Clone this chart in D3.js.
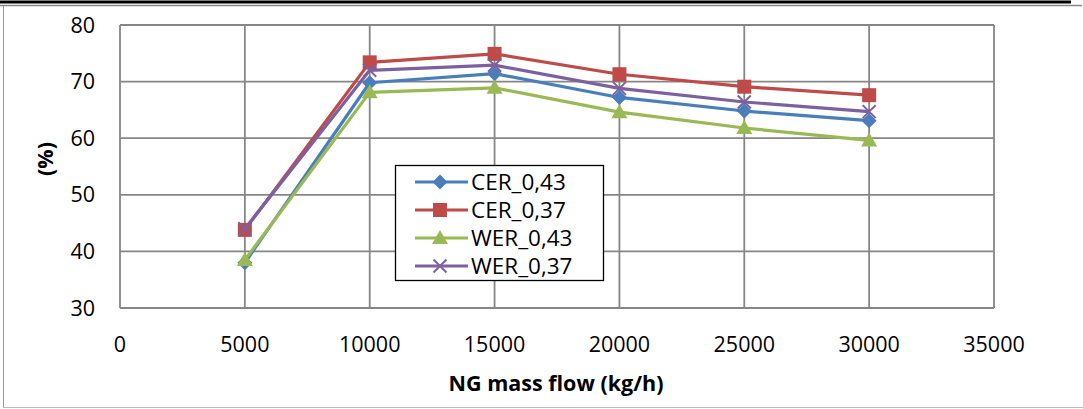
<!DOCTYPE html>
<html>
<head>
<meta charset="utf-8">
<script src="https://cdn.jsdelivr.net/npm/d3@7"></script>
<style>
  html, body { margin: 0; padding: 0; background: #fff; }
  svg { display: block; font-family: "Open Sans", "Noto Sans", sans-serif; }
</style>
</head>
<body>
<div id="chart"></div>
<script>
// x positions (kg/h) shared by every series
const FLOWS = [5000, 10000, 15000, 20000, 25000, 30000];

const CER_043 = [38.0, 69.8, 71.4, 67.2, 64.8, 63.1];
const CER_037 = [43.8, 73.4, 74.9, 71.3, 69.1, 67.6];
const WER_043 = [38.5, 68.1, 68.9, 64.6, 61.8, 59.6];
const WER_037 = [44.0, 72.0, 72.9, 68.8, 66.4, 64.7];

const SERIES = [
  { name: "CER_0,43", values: CER_043, color: "#4a7ebb", marker: "diamond" },
  { name: "CER_0,37", values: CER_037, color: "#be4b48", marker: "square" },
  { name: "WER_0,43", values: WER_043, color: "#98b954", marker: "triangle" },
  { name: "WER_0,37", values: WER_037, color: "#7d60a0", marker: "cross" },
];

const X_TICKS = [0, 5000, 10000, 15000, 20000, 25000, 30000, 35000];
const Y_TICKS = [30, 40, 50, 60, 70, 80];

const width = 1083;
const height = 409;
const plot = { left: 120, right: 994, top: 25, bottom: 308 };
const GRID = "#868686";
const FONT = 21.5;

const svg = d3.select("#chart").append("svg")
  .attr("width", width)
  .attr("height", height);

// page frame
svg.append("line").attr("x1", 0).attr("x2", 1071).attr("y1", 2).attr("y2", 2)
  .attr("stroke", "#000").attr("stroke-width", 3);
svg.append("line").attr("x1", 0).attr("x2", 1082).attr("y1", 5.5).attr("y2", 5.5)
  .attr("stroke", "#888").attr("stroke-width", 1.5);
svg.append("line").attr("x1", 3.5).attr("x2", 3.5).attr("y1", 6).attr("y2", 407)
  .attr("stroke", "#999").attr("stroke-width", 1);
svg.append("line").attr("x1", 3).attr("x2", 1083).attr("y1", 407.5).attr("y2", 407.5)
  .attr("stroke", "#bbb").attr("stroke-width", 1);

const x = d3.scaleLinear().domain([0, 35000]).range([plot.left, plot.right]);
const y = d3.scaleLinear().domain([30, 80]).range([plot.bottom, plot.top]);

// gridlines
const grid = svg.append("g");
grid.selectAll("line.h").data(Y_TICKS).join("line")
  .attr("x1", plot.left).attr("x2", plot.right)
  .attr("y1", (d) => y(d)).attr("y2", (d) => y(d))
  .attr("stroke", GRID).attr("stroke-width", 1.8);
grid.selectAll("line.v").data(X_TICKS).join("line")
  .attr("y1", plot.top).attr("y2", plot.bottom)
  .attr("x1", (d) => x(d)).attr("x2", (d) => x(d))
  .attr("stroke", GRID).attr("stroke-width", 1.8);

// tick labels
svg.append("g").selectAll("text").data(Y_TICKS).join("text")
  .attr("x", 95).attr("y", (d) => y(d))
  .attr("dy", "0.35em")
  .attr("text-anchor", "end")
  .attr("font-size", FONT)
  .text((d) => d);

svg.append("g").selectAll("text").data(X_TICKS).join("text")
  .attr("x", (d) => x(d)).attr("y", 344)
  .attr("dy", "0.35em")
  .attr("text-anchor", "middle")
  .attr("font-size", FONT)
  .text((d) => d);

// axis titles
svg.append("text")
  .attr("transform", "translate(45,159) rotate(-90)")
  .attr("text-anchor", "middle")
  .attr("dy", "0.35em")
  .attr("font-size", FONT).attr("font-weight", "bold")
  .text("(%)");

svg.append("text")
  .attr("x", 556).attr("y", 383)
  .attr("dy", "0.35em")
  .attr("text-anchor", "middle")
  .attr("font-size", FONT).attr("font-weight", "bold")
  .text("NG mass flow (kg/h)");

function drawMarker(g, type, color) {
  if (type === "diamond") {
    g.append("path").attr("d", "M0,-7.5L7.5,0L0,7.5L-7.5,0Z").attr("fill", color);
  } else if (type === "square") {
    g.append("rect").attr("x", -7).attr("y", -7).attr("width", 14).attr("height", 14).attr("fill", color);
  } else if (type === "triangle") {
    g.append("path").attr("d", "M0,-8L8,6L-8,6Z").attr("fill", color);
  } else {
    g.append("path").attr("d", "M-6.5,-6.5L6.5,6.5M-6.5,6.5L6.5,-6.5")
      .attr("stroke", color).attr("stroke-width", 2).attr("fill", "none");
  }
}

const line = d3.line().x((d) => x(d[0])).y((d) => y(d[1]));

SERIES.forEach((s) => {
  const pts = FLOWS.map((f, i) => [f, s.values[i]]);
  const g = svg.append("g");
  g.append("path").datum(pts)
    .attr("d", line)
    .attr("fill", "none")
    .attr("stroke", s.color)
    .attr("stroke-width", 3.2)
    .attr("stroke-linejoin", "round");
  pts.forEach((p) => {
    const m = g.append("g").attr("transform", `translate(${x(p[0])},${y(p[1])})`);
    drawMarker(m, s.marker, s.color);
  });
});

// legend
const legend = svg.append("g").attr("transform", "translate(395,165)");
legend.append("rect")
  .attr("x", 0.5).attr("y", 0.5).attr("width", 208).attr("height", 115)
  .attr("fill", "#fff").attr("stroke", "#000").attr("stroke-width", 1.3);
SERIES.forEach((s, i) => {
  const ly = 17 + i * 28;
  const row = legend.append("g").attr("transform", `translate(0,${ly})`);
  row.append("line").attr("x1", 20).attr("x2", 73).attr("y1", 0).attr("y2", 0)
    .attr("stroke", s.color).attr("stroke-width", 3.2);
  drawMarker(row.append("g").attr("transform", "translate(45,0)"), s.marker, s.color);
  row.append("text").attr("x", 76).attr("y", 0).attr("dy", "0.35em")
    .attr("font-size", 22.5).text(s.name);
});
</script>
</body>
</html>
